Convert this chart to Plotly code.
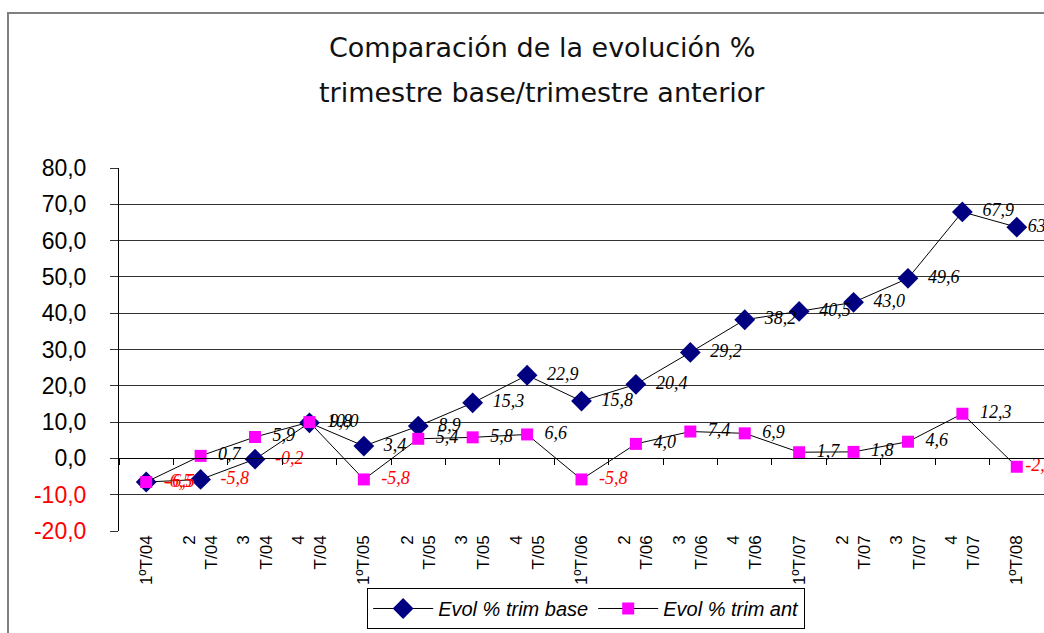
import plotly.graph_objects as go

categories = ["1ºT/04", "2<br>T/04", "3<br>T/04", "4<br>T/04",
              "1ºT/05", "2<br>T/05", "3<br>T/05", "4<br>T/05",
              "1ºT/06", "2<br>T/06", "3<br>T/06", "4<br>T/06",
              "1ºT/07", "2<br>T/07", "3<br>T/07", "4<br>T/07",
              "1ºT/08"]
trim_base = [-6.5, -5.8, -0.2, 9.8, 3.4, 8.9, 15.3, 22.9, 15.8, 20.4, 29.2,
             38.2, 40.5, 43.0, 49.6, 67.9, 63.7]
trim_ant = [-6.5, 0.7, 5.9, 10.0, -5.8, 5.4, 5.8, 6.6, -5.8, 4.0, 7.4,
            6.9, 1.7, 1.8, 4.6, 12.3, -2.3]
y_ticks = [-20, -10, 0, 10, 20, 30, 40, 50, 60, 70, 80]


def fmt(v):
    return f"{v:.1f}".replace(".", ",")


def lab(vals):
    out = ["  " + fmt(v) for v in vals]
    out[-1] = fmt(vals[-1])  # last label sits tight against its marker
    return out


def col(vals):
    return ["#FF0000" if v < 0 else "#000000" for v in vals]


def ytick(v):
    s = fmt(v)
    return f'<span style="color:#FF0000">{s}</span>' if v < 0 else s


fig = go.Figure()
fig.add_trace(go.Scatter(
    x=categories, y=trim_base, name="Evol % trim base",
    mode="lines+markers+text", cliponaxis=False,
    line=dict(color="#000000", width=1),
    marker=dict(symbol="diamond", size=16, color="#000080",
                line=dict(color="#000080", width=0)),
    text=lab(trim_base), textposition="middle right",
    textfont=dict(family="Liberation Serif", size=18, color=col(trim_base),
                  style="italic"),
))
fig.add_trace(go.Scatter(
    x=categories, y=trim_ant, name="Evol % trim ant",
    mode="lines+markers+text", cliponaxis=False,
    line=dict(color="#000000", width=1),
    marker=dict(symbol="square", size=12, color="#FF00FF",
                line=dict(color="#FF00FF", width=0)),
    text=lab(trim_ant), textposition="middle right",
    textfont=dict(family="Liberation Serif", size=18, color=col(trim_ant),
                  style="italic"),
))
# invisible helper trace so the tick axis at zero knows the categories
fig.add_trace(go.Scatter(x=categories, y=[None] * len(categories),
                         xaxis="x2", showlegend=False, hoverinfo="skip"))

fig.update_layout(
    width=1044, height=633,
    margin=dict(l=119, r=0, t=168, b=102),
    paper_bgcolor="white", plot_bgcolor="white",
    showlegend=True,
    legend=dict(orientation="h", x=0.505, xanchor="center", y=-0.157,
                yanchor="top", bordercolor="#000000", borderwidth=1,
                font=dict(family="Liberation Sans", size=20, color="#000000",
                          style="italic"),
                itemwidth=60),
    xaxis=dict(type="category", range=[-0.5, 16.5], showgrid=False,
               showline=False, ticks="", tickangle=-90,
               tickfont=dict(family="Liberation Sans", size=17, color="#000000"),
               zeroline=False),
    xaxis2=dict(type="category", overlaying="x", anchor="free", position=0.2,
                side="bottom", range=[-0.5, 16.5], showline=True,
                linecolor="#000000", linewidth=1, ticks="outside",
                tickson="boundaries", ticklen=6, tickcolor="#000000",
                showticklabels=False, showgrid=False, zeroline=False),
    yaxis=dict(range=[-20, 80], tickvals=y_ticks,
               ticktext=[ytick(v) for v in y_ticks],
               showgrid=True, gridcolor="#333333", gridwidth=1,
               showline=True, linecolor="#000000", linewidth=1,
               ticks="outside", ticklen=8, tickcolor="#333333",
               ticklabelstandoff=19, zeroline=False,
               tickfont=dict(family="Liberation Sans", size=23, color="#000000")),
    shapes=[dict(type="rect", xref="paper", yref="paper",
                 x0=-0.12, x1=1.2, y0=-0.5, y1=1.427,
                 line=dict(color="#808080", width=2), layer="below")],
    annotations=[
        dict(text="Comparación de la evolución %", xref="paper", yref="paper",
             x=0.457, y=1.333, xanchor="center", yanchor="middle",
             showarrow=False,
             font=dict(family="DejaVu Sans", size=27, color="#111111")),
        dict(text="trimestre base/trimestre anterior", xref="paper",
             yref="paper", x=0.457, y=1.209, xanchor="center",
             yanchor="middle", showarrow=False,
             font=dict(family="DejaVu Sans", size=27, color="#111111")),
    ],
)

fig.write_html("out.html", config={"displayModeBar": False},
               post_script="document.body.style.margin='0';"
                           "document.body.style.overflow='hidden';")
